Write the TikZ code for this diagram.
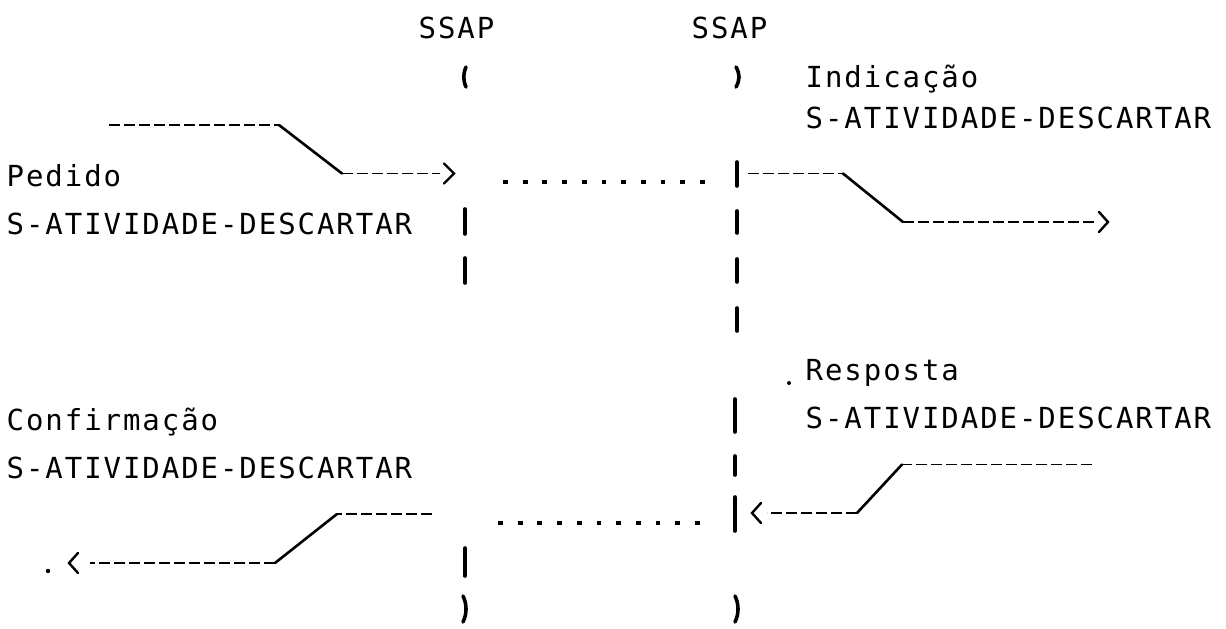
\documentclass[tikz,border=0pt]{standalone}
\usepackage{fontspec}
\newfontfamily\dotfont{DejaVu Sans Mono}
\usetikzlibrary{calc}

% fixed character pitch, as on a line printer
\newlength\cellw
\setlength\cellw{19.4pt}
\def\monoend{}
\newcommand\mono[1]{\monoloop#1\monoend}
\def\monoloop#1{\ifx\monoend#1\else\makebox[\cellw][l]{#1}\expandafter\monoloop\fi}

\begin{document}
\begin{tikzpicture}[x=1pt,y=-1pt,
  txt/.style={anchor=base west,inner sep=0pt,font=\dotfont\fontsize{29pt}{30pt}\selectfont},
  lifemark/.style={line width=3.6pt,line cap=round},
  msgdash/.style={line width=1.8pt,dash pattern=on 11pt off 4pt},
  slant/.style={line width=2.6pt,line cap=round},
  chev/.style={line width=2.4pt,line cap=round,line join=miter},
  dotrow/.style={line width=4.8pt,dash pattern=on 4.8pt off 14.9pt},
]
\useasboundingbox (0,0) rectangle (1226,629);

% service access point headings
\node[txt] (sapL) at (418.5,38.5) {\mono{SSAP}};
\node[txt] (sapR) at (691.5,38.5) {\mono{SSAP}};

% primitive names
\node[txt] (ind)   at (805.5,87)  {\mono{Indicação}};
\node[txt] (indS)  at (805.5,128) {\mono{S-ATIVIDADE-DESCARTAR}};
\node[txt] (ped)   at (6.5,186)   {\mono{Pedido}};
\node[txt] (pedS)  at (6.5,234.5) {\mono{S-ATIVIDADE-DESCARTAR}};
\node[txt] (resp)  at (805.5,380) {\mono{Resposta}};
\node[txt] (respS) at (805.5,428) {\mono{S-ATIVIDADE-DESCARTAR}};
\node[txt] (conf)  at (6.5,430)   {\mono{Confirmação}};
\node[txt] (confS) at (6.5,478)   {\mono{S-ATIVIDADE-DESCARTAR}};

% left lifeline fragments
\draw[lifemark] (466,67) .. controls (463,74) and (463,80) .. (466,87);
\draw[lifemark] (465,209) -- (465,234);
\draw[lifemark] (465,258) -- (465,283);
\draw[lifemark] (465,548) -- (465,576);
\draw[lifemark] (463,596) .. controls (467,604) and (467,614) .. (463,622);

% right lifeline fragments
\draw[lifemark] (736,67) .. controls (740,74) and (740,80) .. (736,87);
\draw[lifemark] (737,162) -- (737,186);
\draw[lifemark] (737,211) -- (737,233);
\draw[lifemark] (737,259) -- (737,282);
\draw[lifemark] (737,308) -- (737,331);
\draw[lifemark] (735,399) -- (735,432);
\draw[lifemark] (735,456) -- (735,475);
\draw[lifemark] (735,497) -- (735,531);
\draw[lifemark] (735,596) .. controls (739,604) and (739,614) .. (735,622);

% request
\coordinate (a1s) at (109,125);
\coordinate (a1b) at (279,125);
\coordinate (a1c) at (342,173.5);
\coordinate (a1e) at (440,173.5);
\draw[msgdash] (a1s) -- (a1b);
\draw[slant] (a1b) -- (a1c);
\draw[msgdash] (a1c) -- (a1e);
\draw[chev] ($(a1e)+(4,-10)$) -- ($(a1e)+(14,0)$) -- ($(a1e)+(4,10)$);

% indication
\coordinate (a2s) at (748,173.5);
\coordinate (a2b) at (843,173.5);
\coordinate (a2c) at (903,222);
\coordinate (a2e) at (1096,222);
\draw[msgdash] (a2s) -- (a2b);
\draw[slant] (a2b) -- (a2c);
\draw[msgdash] (a2c) -- (a2e);
\draw[chev] ($(a2e)+(3,-10)$) -- ($(a2e)+(12,0)$) -- ($(a2e)+(3,10)$);

% response
\coordinate (a3s) at (1092,464.5);
\coordinate (a3b) at (902,464.5);
\coordinate (a3c) at (857,513);
\coordinate (a3e) at (767,513);
\draw[msgdash] (a3s) -- (a3b);
\draw[slant] (a3b) -- (a3c);
\draw[msgdash] (a3c) -- (a3e);
\draw[chev] ($(a3e)+(-6,-10)$) -- ($(a3e)+(-15,0)$) -- ($(a3e)+(-6,10)$);

% confirmation
\coordinate (a4s) at (432,514);
\coordinate (a4b) at (337,514);
\coordinate (a4c) at (275,563);
\coordinate (a4e) at (90,563);
\draw[msgdash] (a4s) -- (a4b);
\draw[slant] (a4b) -- (a4c);
\draw[msgdash] (a4c) -- (a4e);
\draw[chev] ($(a4e)+(-12,-10)$) -- ($(a4e)+(-21,0)$) -- ($(a4e)+(-12,10)$);

% transfer across the provider
\coordinate (d1s) at (503,182);
\coordinate (d1e) at (706,182);
\draw[dotrow] (d1s) -- (d1e);
\coordinate (d2s) at (498,523);
\coordinate (d2e) at (701,523);
\draw[dotrow] (d2s) -- (d2e);

% stray printer dots
\fill (789,383) circle (2);
\fill (48,571) circle (2.2);
\end{tikzpicture}
\end{document}
